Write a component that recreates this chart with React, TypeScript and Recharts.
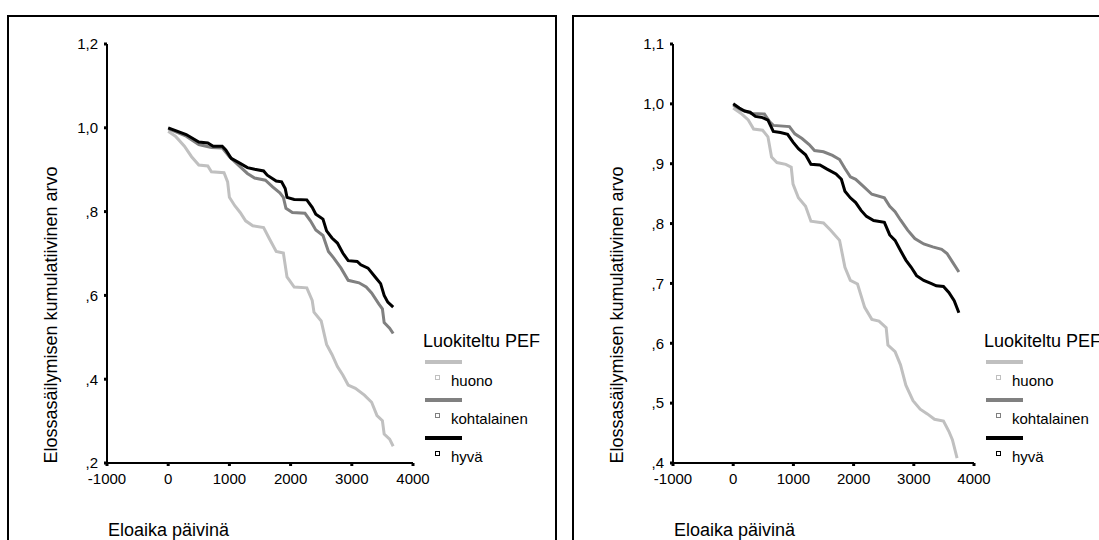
import React from 'react';
import { LineChart, Line, XAxis, YAxis, Legend, Label } from 'recharts';

const FONT = '"Liberation Sans", Arial, sans-serif';

const seriesNames = ['huono', 'kohtalainen', 'hyvä'];
const seriesColors = ['#c0c0c0', '#808080', '#000000'];
const xTicks = [-1000, 0, 1000, 2000, 3000, 4000];
const leftYTicks = [0.2, 0.4, 0.6, 0.8, 1.0, 1.2];
const rightYTicks = [0.4, 0.5, 0.6, 0.7, 0.8, 0.9, 1.0, 1.1];
const legendTitle = 'Luokiteltu PEF';
const yTitle = 'Elossasäilymisen kumulatiivinen arvo';
const xTitle = 'Eloaika päivinä';

// Left panel
const leftHuonoDays = [0, 118, 265, 382, 500, 647, 706, 912, 971, 1000, 1088, 1176, 1265, 1382, 1559, 1647, 1765, 1882, 1941, 2059, 2265, 2353, 2382, 2500, 2588, 2676, 2765, 2853, 2941, 3059, 3206, 3324, 3412, 3500, 3529, 3618, 3676];
const leftHuonoVals = [0.992, 0.98, 0.956, 0.931, 0.911, 0.909, 0.895, 0.893, 0.871, 0.834, 0.814, 0.798, 0.778, 0.766, 0.762, 0.737, 0.705, 0.701, 0.644, 0.62, 0.618, 0.588, 0.56, 0.539, 0.483, 0.459, 0.43, 0.41, 0.386, 0.378, 0.362, 0.345, 0.313, 0.301, 0.269, 0.257, 0.24];
const leftKohtDays = [0, 294, 500, 706, 882, 1000, 1147, 1294, 1412, 1588, 1706, 1824, 1882, 1924, 2029, 2235, 2324, 2412, 2529, 2618, 2706, 2824, 2941, 3118, 3235, 3324, 3441, 3500, 3529, 3618, 3676];
const leftKohtVals = [0.998, 0.98, 0.96, 0.953, 0.952, 0.931, 0.911, 0.891, 0.88, 0.875, 0.859, 0.845, 0.834, 0.808, 0.798, 0.796, 0.778, 0.756, 0.743, 0.705, 0.689, 0.665, 0.636, 0.63, 0.62, 0.606, 0.58, 0.568, 0.535, 0.522, 0.509];
const leftHyvaDays = [0, 294, 500, 647, 735, 882, 941, 1029, 1176, 1294, 1412, 1559, 1618, 1765, 1853, 1912, 1941, 2059, 2265, 2353, 2412, 2529, 2588, 2676, 2765, 2853, 2941, 3088, 3147, 3265, 3382, 3471, 3529, 3588, 3676];
const leftHyvaVals = [1.0, 0.984, 0.966, 0.964, 0.956, 0.956, 0.947, 0.927, 0.915, 0.905, 0.901, 0.897, 0.887, 0.873, 0.871, 0.855, 0.834, 0.829, 0.828, 0.81, 0.794, 0.782, 0.754, 0.737, 0.725, 0.701, 0.683, 0.681, 0.673, 0.665, 0.644, 0.628, 0.6, 0.584, 0.572];

// Right panel
const rightHuonoDays = [0, 131, 250, 339, 488, 577, 637, 726, 874, 964, 994, 1083, 1202, 1291, 1500, 1619, 1767, 1856, 1946, 2065, 2184, 2303, 2422, 2541, 2570, 2689, 2779, 2868, 2987, 3106, 3225, 3344, 3493, 3582, 3641, 3719];
const rightHuonoVals = [0.993, 0.984, 0.973, 0.958, 0.956, 0.945, 0.911, 0.902, 0.899, 0.894, 0.866, 0.843, 0.829, 0.804, 0.801, 0.789, 0.772, 0.727, 0.705, 0.699, 0.66, 0.64, 0.637, 0.626, 0.597, 0.586, 0.564, 0.53, 0.504, 0.49, 0.482, 0.473, 0.47, 0.453, 0.439, 0.408];
const rightKohtDays = [0, 131, 309, 518, 607, 666, 934, 1024, 1143, 1262, 1351, 1500, 1649, 1767, 1856, 1946, 2035, 2154, 2303, 2511, 2600, 2689, 2779, 2898, 3017, 3165, 3314, 3463, 3552, 3641, 3749];
const rightKohtVals = [0.998, 0.99, 0.984, 0.983, 0.97, 0.964, 0.962, 0.95, 0.942, 0.932, 0.922, 0.92, 0.914, 0.907, 0.892, 0.878, 0.874, 0.863, 0.849, 0.843, 0.829, 0.82, 0.806, 0.789, 0.775, 0.766, 0.761, 0.757, 0.75, 0.736, 0.719];
const rightHyvaDays = [0, 101, 190, 280, 369, 488, 577, 666, 785, 904, 994, 1083, 1202, 1291, 1440, 1559, 1708, 1797, 1856, 1946, 2035, 2124, 2213, 2333, 2511, 2600, 2689, 2779, 2868, 2957, 3046, 3165, 3284, 3374, 3493, 3582, 3671, 3749];
const rightHyvaVals = [1.0, 0.993, 0.988, 0.986, 0.979, 0.977, 0.973, 0.954, 0.952, 0.949, 0.936, 0.925, 0.915, 0.899, 0.898, 0.891, 0.883, 0.874, 0.854, 0.843, 0.835, 0.822, 0.812, 0.805, 0.802, 0.781, 0.772, 0.755, 0.739, 0.727, 0.713, 0.705, 0.7, 0.696, 0.695, 0.685, 0.671, 0.651];

const zip = (days: number[], vals: number[]) => days.map((d, i) => ({ x: d, y: vals[i] }));

const fmtY = (v: number) => {
  const s = v.toFixed(1);
  return s.startsWith('0') ? s.slice(1).replace('.', ',') : s.replace('.', ',');
};

const renderLegend = (props: any) => {
  const payload = [...(props.payload ?? [])].sort(
    (a: any, b: any) => seriesNames.indexOf(a.value) - seriesNames.indexOf(b.value)
  );
  return (
    <div style={{ position: 'relative', width: 150, height: 150, fontFamily: FONT, color: '#000' }}>
      <div style={{ position: 'absolute', left: 0, top: -1, fontSize: 18, lineHeight: '20px', whiteSpace: 'nowrap' }}>{legendTitle}</div>
      {payload.map((e: any, i: number) => (
        <React.Fragment key={i}>
          <div style={{ position: 'absolute', left: 2, top: 28 + 38 * i, width: 37, height: 4, background: e.color }} />
          <div style={{ position: 'absolute', left: 12, top: 43 + 38 * i, width: 3, height: 3, border: `1px solid ${e.color}` }} />
          <div style={{ position: 'absolute', left: 28, top: 40 + 38 * i, fontSize: 15, lineHeight: '17px', whiteSpace: 'nowrap' }}>{e.value}</div>
        </React.Fragment>
      ))}
    </div>
  );
};

type PanelProps = {
  series: { x: number; y: number }[][];
  yTicks: number[];
  width: number;
  marginRight: number;
  marginLeft: number;
  legendLeft: number;
};

const Panel = ({ series, yTicks, width, marginRight, marginLeft, legendLeft }: PanelProps) => {
  const yDomain = [yTicks[0], yTicks[yTicks.length - 1]];
  return (
    <LineChart width={width} height={540} margin={{ top: 44, right: marginRight, bottom: 47, left: marginLeft }}>
      <XAxis
        type="number"
        dataKey="x"
        domain={[xTicks[0], xTicks[xTicks.length - 1]]}
        ticks={xTicks}
        allowDataOverflow
        height={30}
        axisLine={{ stroke: '#000', strokeWidth: 2 }}
        tickLine={{ stroke: '#000', strokeWidth: 3 }}
        tickSize={3}
        tickMargin={7}
        tick={{ fill: '#000', fontSize: 15, fontFamily: FONT }}
      >
        <Label
          content={() => (
            <text x={marginLeft + 61} y={536} fontSize={18} fontFamily={FONT} fill="#000" textAnchor="start">
              {xTitle}
            </text>
          )}
        />
      </XAxis>
      <XAxis xAxisId="top" orientation="top" type="number" domain={[xTicks[0], xTicks[xTicks.length - 1]]} height={0} tick={false} tickLine={false} axisLine={{ stroke: '#000', strokeWidth: 2 }} />
      <YAxis
        type="number"
        domain={yDomain}
        ticks={yTicks}
        allowDataOverflow
        width={60}
        axisLine={{ stroke: '#000', strokeWidth: 2 }}
        tickLine={{ stroke: '#000', strokeWidth: 3 }}
        tickSize={3}
        tickMargin={6}
        tickFormatter={fmtY}
        tick={{ fill: '#000', fontSize: 15, fontFamily: FONT }}
      >
        <Label
          content={() => (
            <text
              x={marginLeft + 10}
              y={315}
              fontSize={18}
              fontFamily={FONT}
              fill="#000"
              textAnchor="middle"
              transform={`rotate(-90 ${marginLeft + 10} 315)`}
            >
              {yTitle}
            </text>
          )}
        />
      </YAxis>
      <YAxis yAxisId="right" orientation="right" domain={yDomain} width={0} tick={false} tickLine={false} axisLine={{ stroke: '#000', strokeWidth: 2 }} />
      {series.map((d, i) => (
        <Line
          key={seriesNames[i]}
          data={d}
          dataKey="y"
          name={seriesNames[i]}
          type="linear"
          stroke={seriesColors[i]}
          strokeWidth={3}
          dot={false}
          activeDot={false}
          isAnimationActive={false}
        />
      ))}
      <Legend
        layout="vertical"
        align="center"
        verticalAlign="middle"
        content={renderLegend}
        wrapperStyle={{ position: 'absolute', left: legendLeft, top: 332, width: 150, height: 150 }}
      />
    </LineChart>
  );
};

export default function App() {
  const leftSeries = [zip(leftHuonoDays, leftHuonoVals), zip(leftKohtDays, leftKohtVals), zip(leftHyvaDays, leftHyvaVals)];
  const rightSeries = [zip(rightHuonoDays, rightHuonoVals), zip(rightKohtDays, rightKohtVals), zip(rightHyvaDays, rightHyvaVals)];
  return (
    <div style={{ position: 'absolute', left: 0, top: 0, width: 1099, height: 540, overflow: 'hidden', background: '#fff', fontFamily: FONT }}>
      <div style={{ position: 'absolute', left: 7, top: 15, width: 550, height: 600, border: '2px solid #000', boxSizing: 'border-box' }} />
      <div style={{ position: 'absolute', left: 572, top: 15, width: 600, height: 600, border: '2px solid #000', boxSizing: 'border-box' }} />
      <div style={{ position: 'absolute', left: 0, top: 0 }}>
        <Panel series={leftSeries} yTicks={leftYTicks} width={560} marginLeft={47} marginRight={147} legendLeft={423} />
      </div>
      <div style={{ position: 'absolute', left: 565, top: 0 }}>
        <Panel series={rightSeries} yTicks={rightYTicks} width={534} marginLeft={48} marginRight={125} legendLeft={419} />
      </div>
    </div>
  );
}
